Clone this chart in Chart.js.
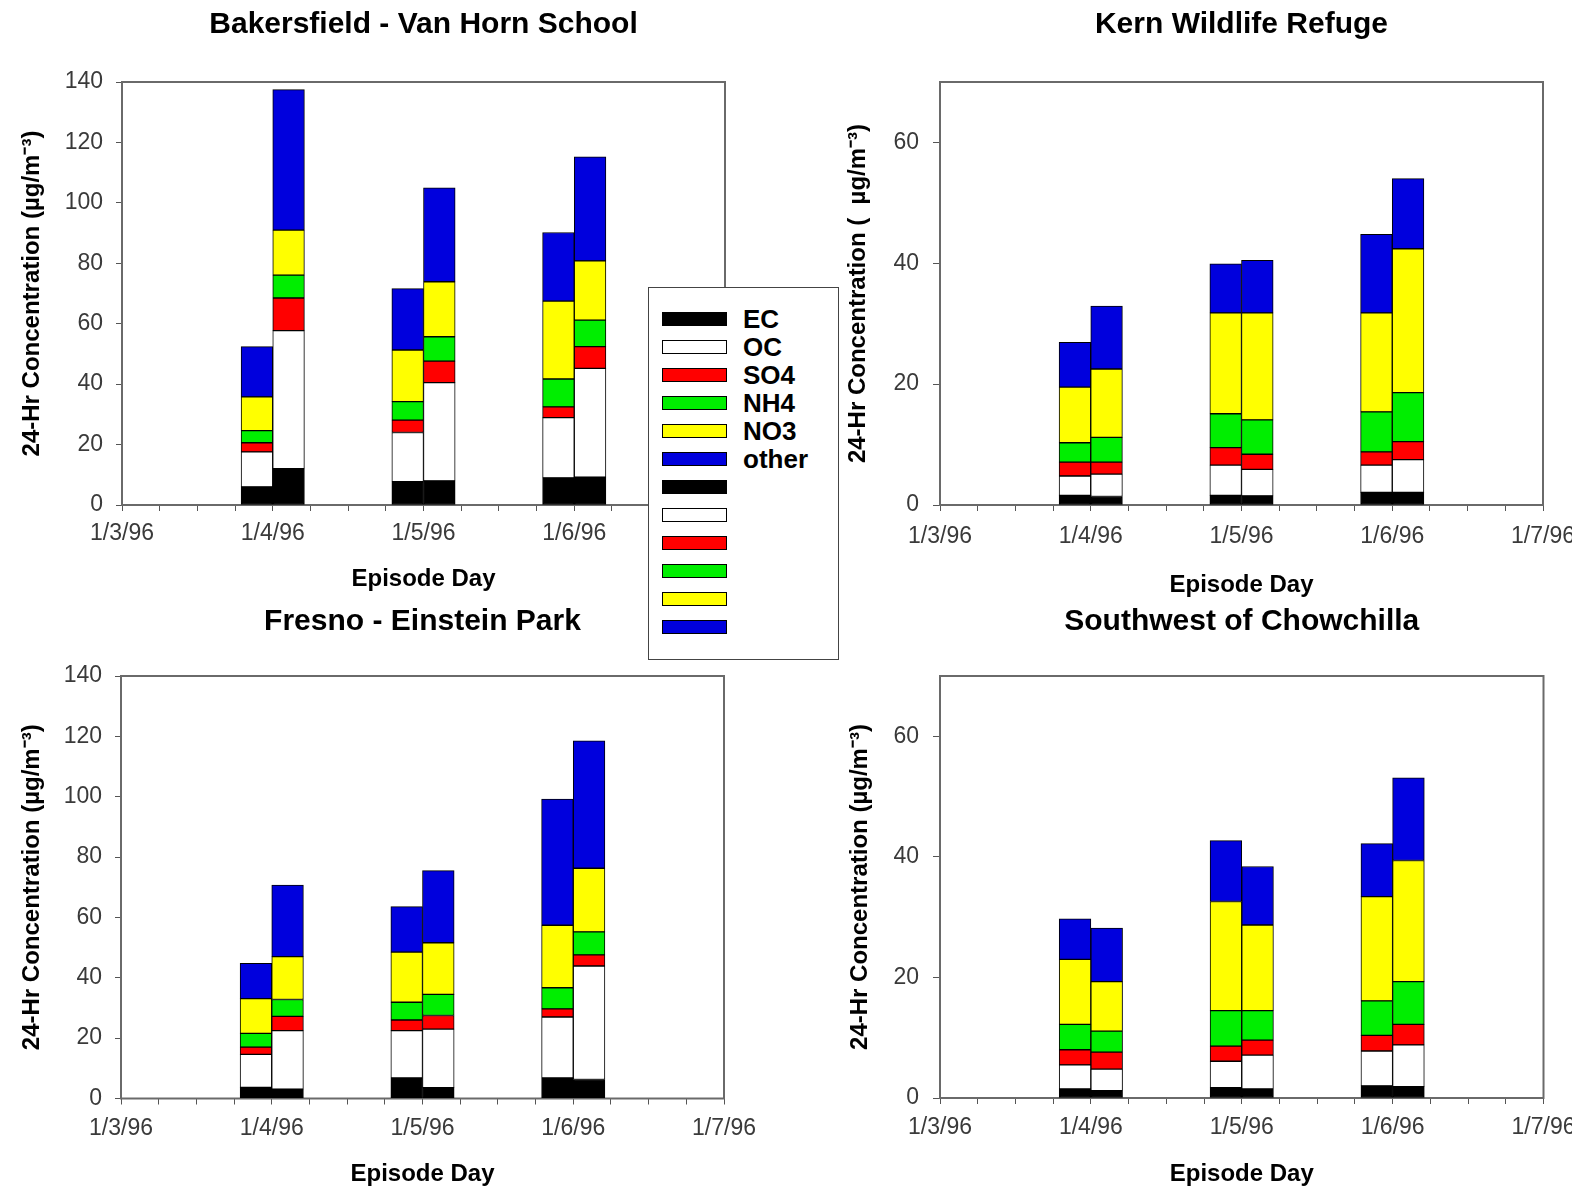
<!DOCTYPE html>
<html lang="en">
<head>
<meta charset="UTF-8">
<title>Episode Day PM composition</title>
<script src="https://cdn.jsdelivr.net/npm/chart.js"></script>
<style>
  body { margin: 0; background: #fff; }
  #page { position: relative; width: 1572px; height: 1189px; overflow: hidden; }
  .panel { position: absolute; }
  #legend {
    position: absolute; left: 648px; top: 287px; width: 191px; height: 373px;
    border: 1px solid #444; background: #fff; box-sizing: border-box;
    font-family: 'Liberation Sans', Arial, sans-serif;
  }
  .sw { position: absolute; left: 13px; width: 65px; height: 14px; border: 1px solid #000; box-sizing: border-box; }
  .lb { position: absolute; left: 94px; font-size: 26px; font-weight: bold; line-height: 26px; color: #000; }
</style>
</head>
<body>
<div id="page">
  <div class="panel" style="left:0;top:0"><canvas id="c1" width="786" height="600"></canvas></div>
  <div class="panel" style="left:786px;top:0"><canvas id="c2" width="786" height="600"></canvas></div>
  <div class="panel" style="left:0;top:600px"><canvas id="c3" width="786" height="589"></canvas></div>
  <div class="panel" style="left:786px;top:600px"><canvas id="c4" width="786" height="589"></canvas></div>
  <div id="legend"></div>
</div>

<script>
// x axis: day labels, two filter samples per episode day (1/4, 1/5, 1/6)
const dayLabels = ['1/3/96', '1/4/96', '1/5/96', '1/6/96', '1/7/96'];
const sampleDay = [1, 1, 2, 2, 3, 3];

const species = ['EC', 'OC', 'SO4', 'NH4', 'NO3', 'other'];
const speciesColors = ['#000000', '#ffffff', '#ff0000', '#00ee00', '#ffff00', '#0000dd'];

// Bakersfield - Van Horn School (ug/m3)
const bakEC    = [6.0, 12.0, 7.7, 8.0, 9.0, 9.2];
const bakOC    = [11.6, 45.7, 16.3, 32.5, 19.9, 36.0];
const bakSO4   = [3.0, 10.8, 4.1, 7.1, 3.6, 7.2];
const bakNH4   = [4.0, 7.6, 6.1, 8.1, 9.2, 8.8];
const bakNO3   = [11.2, 14.9, 17.1, 18.2, 25.8, 19.6];
const bakOther = [16.6, 46.5, 20.3, 31.1, 22.7, 34.4];

// Kern Wildlife Refuge
const kernEC    = [1.6, 1.4, 1.6, 1.5, 2.1, 2.1];
const kernOC    = [3.2, 3.7, 5.0, 4.4, 4.5, 5.4];
const kernSO4   = [2.3, 2.0, 2.9, 2.5, 2.2, 3.0];
const kernNH4   = [3.2, 4.1, 5.6, 5.7, 6.6, 8.1];
const kernNO3   = [9.2, 11.3, 16.7, 17.7, 16.4, 23.8];
const kernOther = [7.4, 10.4, 8.1, 8.7, 13.0, 11.6];

// Fresno - Einstein Park
const fresEC    = [3.7, 3.1, 6.8, 3.6, 6.8, 6.3];
const fresOC    = [10.9, 19.4, 15.7, 19.4, 20.2, 37.6];
const fresSO4   = [2.4, 4.7, 3.5, 4.5, 2.7, 3.7];
const fresNH4   = [4.6, 5.6, 5.9, 7.0, 7.0, 7.6];
const fresNO3   = [11.5, 14.2, 16.6, 17.1, 20.7, 21.1];
const fresOther = [11.7, 23.7, 15.1, 23.9, 41.8, 42.2];

// Southwest of Chowchilla
const chowEC    = [1.5, 1.2, 1.7, 1.5, 2.0, 1.9];
const chowOC    = [4.0, 3.6, 4.4, 5.6, 5.8, 6.9];
const chowSO4   = [2.5, 2.8, 2.5, 2.5, 2.6, 3.4];
const chowNH4   = [4.2, 3.5, 5.9, 4.9, 5.7, 7.1];
const chowNO3   = [10.8, 8.2, 18.1, 14.2, 17.3, 20.1];
const chowOther = [6.7, 8.9, 10.1, 9.7, 8.8, 13.7];

const FONT = "'Liberation Sans', Arial, sans-serif";
const halfBar = 0.105;   // each sample bar is ~5 hours wide, first before the day tick, second after

// gray frame around plot area
const framePlugin = {
    id: 'frame',
    beforeDatasetsDraw(chart) {
        const a = chart.chartArea;
        const ctx = chart.ctx;
        ctx.save();
        ctx.strokeStyle = '#6a6a6a';
        ctx.lineWidth = 2;
        ctx.strokeRect(a.left, a.top, a.right - a.left, a.bottom - a.top);
        ctx.restore();
    }
};

function makeChart(id, title, yTitle, yMax, series, lay) {
    const datasets = species.map((sp, s) => ({
        label: sp,
        data: series[s].map((v, i) => ({
            x: sampleDay[i] + (i % 2 === 0 ? -halfBar : halfBar),
            y: v
        })),
        backgroundColor: speciesColors[s],
        borderColor: '#000',
        borderWidth: 1,
        borderSkipped: false,
        barPercentage: 1,
        categoryPercentage: 1
    }));

    return new Chart(document.getElementById(id), {
        type: 'bar',
        data: { datasets: datasets },
        plugins: [framePlugin],
        options: {
            responsive: false,
            animation: false,
            events: [],
            layout: { padding: { left: 0, right: lay.right, top: 0, bottom: 0 } },
            plugins: {
                legend: { display: false },
                tooltip: { enabled: false },
                title: {
                    display: true,
                    text: title,
                    fullSize: false,
                    color: '#000',
                    font: { family: FONT, size: 30, weight: 'bold' },
                    padding: { top: lay.titleTop, bottom: lay.titleBottom }
                }
            },
            scales: {
                x: {
                    type: 'linear',
                    stacked: true,
                    offset: false,
                    min: 0,
                    max: 4,
                    afterFit: (s) => { s.height = lay.xHeight; s.paddingLeft = 0; s.paddingRight = 0; },
                    border: { display: false },
                    grid: { offset: false, drawOnChartArea: false, drawTicks: true, tickLength: 6, color: '#555' },
                    ticks: {
                        stepSize: 0.25,
                        autoSkip: false,
                        maxRotation: 0,
                        padding: lay.xPad,
                        color: '#3a3a3a',
                        font: { family: FONT, size: 23 },
                        callback: (v) => Number.isInteger(v) ? dayLabels[v] : ''
                    },
                    title: {
                        display: true,
                        text: 'Episode Day',
                        color: '#000',
                        font: { family: FONT, size: 24, weight: 'bold' },
                        padding: { top: 0, bottom: lay.xTitlePad }
                    }
                },
                y: {
                    stacked: true,
                    min: 0,
                    max: yMax,
                    afterFit: (s) => { s.width = lay.yWidth; s.paddingTop = 0; s.paddingBottom = 0; },
                    border: { display: false },
                    grid: { drawOnChartArea: false, drawTicks: true, tickLength: lay.yTick, color: '#555' },
                    ticks: {
                        stepSize: 20,
                        includeBounds: false,
                        padding: lay.yPad,
                        color: '#3a3a3a',
                        font: { family: FONT, size: 23 }
                    },
                    title: {
                        display: true,
                        text: yTitle,
                        color: '#000',
                        font: { family: FONT, size: 24, weight: 'bold' },
                        padding: { top: lay.yTitlePad, bottom: 0 }
                    }
                }
            }
        }
    });
}

makeChart('c1', 'Bakersfield - Van Horn School', '24-Hr Concentration (\u00b5g/m\u207b\u00b3)', 140,
    [bakEC, bakOC, bakSO4, bakNH4, bakNO3, bakOther],
    { right: 61, yWidth: 122, yTick: 6, yPad: 13, yTitlePad: 18, xHeight: 95, xPad: 9,
      titleTop: 7, titleBottom: 39, xTitlePad: 6 });

makeChart('c2', 'Kern Wildlife Refuge', '24-Hr Concentration (  \u00b5g/m\u207b\u00b3)', 70,
    [kernEC, kernOC, kernSO4, kernNH4, kernNO3, kernOther],
    { right: 29, yWidth: 154, yTick: 7, yPad: 14, yTitlePad: 58, xHeight: 95, xPad: 12,
      titleTop: 7, titleBottom: 39, xTitlePad: 0 });

makeChart('c3', 'Fresno - Einstein Park', '24-Hr Concentration (\u00b5g/m\u207b\u00b3)', 140,
    [fresEC, fresOC, fresSO4, fresNH4, fresNO3, fresOther],
    { right: 62, yWidth: 121, yTick: 6, yPad: 13, yTitlePad: 18, xHeight: 90.5, xPad: 10,
      titleTop: 4, titleBottom: 36, xTitlePad: 0 });

makeChart('c4', 'Southwest of Chowchilla', '24-Hr Concentration (\u00b5g/m\u207b\u00b3)', 70,
    [chowEC, chowOC, chowSO4, chowNH4, chowNO3, chowOther],
    { right: 28.5, yWidth: 154, yTick: 7, yPad: 14, yTitlePad: 60, xHeight: 91, xPad: 10,
      titleTop: 4, titleBottom: 36, xTitlePad: 0 });

// legend box: one labelled set of swatches, then a second unlabelled set
const legend = document.getElementById('legend');
for (let r = 0; r < species.length * 2; r++) {
    const s = r % species.length;
    const top = 24 + r * 28;
    const sw = document.createElement('div');
    sw.className = 'sw';
    sw.style.top = top + 'px';
    sw.style.background = speciesColors[s];
    legend.appendChild(sw);
    if (r < species.length) {
        const lb = document.createElement('div');
        lb.className = 'lb';
        lb.style.top = (top - 6) + 'px';
        lb.textContent = species[s];
        legend.appendChild(lb);
    }
}
</script>
</body>
</html>
